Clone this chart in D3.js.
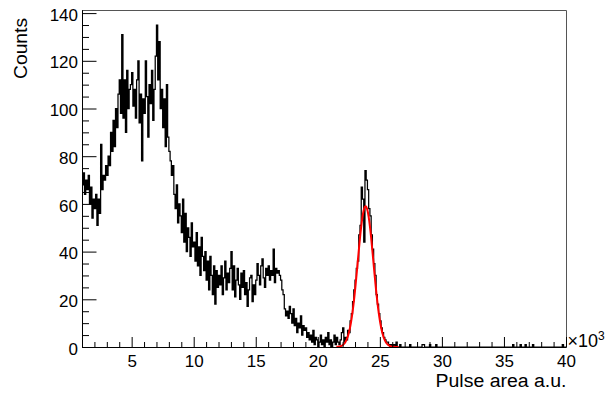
<!DOCTYPE html>
<html>
<head>
<meta charset="utf-8">
<script src="https://cdn.jsdelivr.net/npm/d3@7"></script>
<style>
  html, body { margin: 0; padding: 0; background: #fff; }
  svg { display: block; }
  text { font-family: "Liberation Sans", Arial, Helvetica, sans-serif; fill: #000; }
</style>
</head>
<body>
<svg id="chart" width="609" height="394"></svg>
<script>
// Histogram binning (x in units of 10^3)
const binStart = 1.0;
const binWidth = 0.1;

// Bin contents, 100 per 10^4 span (first block starts at 1.0)
const counts1to10 = [
  68, 73, 64, 70, 66, 72, 60, 67, 54, 62,
  58, 64, 51, 62, 56, 85, 66, 72, 70, 76,
  72, 80, 76, 90, 82, 95, 84, 100, 92, 106,
  112, 98, 131, 96, 112, 90, 116, 100, 108, 110,
  115, 101, 108, 96, 112, 120, 94, 106, 78, 104,
  98, 120, 105, 88, 110, 102, 116, 95, 108, 122,
  135, 112, 128, 100, 108, 92, 104, 84, 110, 88,
  82, 78, 72, 76, 64, 58, 68, 52, 60, 55,
  48, 62, 44, 56, 40, 50, 46, 38, 52, 42
];
const counts10to20 = [
  44, 36, 48, 34, 42, 30, 46, 38, 32, 40,
  28, 36, 24, 38, 30, 22, 34, 18, 32, 25,
  30, 26, 34, 22, 29, 36, 24, 31, 27, 33,
  40, 24, 34, 21, 28, 33, 26, 20, 31, 25,
  32, 22, 27, 17, 24, 29, 30, 19, 26, 22,
  28, 35, 30, 26, 34, 37, 29, 25, 33, 30,
  34, 28, 32, 30, 41, 27, 33, 31, 32, 30,
  28, 24, 22, 16, 13, 15, 12, 17, 14, 10,
  16, 9, 12, 6, 10, 8, 13, 5, 9, 7,
  8, 4, 6, 3, 5, 2, 7, 1, 4, 3
];
const counts20to30 = [
  0, 2, 5, 1, 3, 0, 4, 2, 6, 1,
  3, 0, 2, 5, 1, 4, 2, 1, 3, 6,
  8, 2, 4, 3, 7, 6, 11, 14, 19, 24,
  28, 33, 36, 47, 51, 67, 62, 44, 74, 70,
  66, 58, 55, 47, 41, 35, 30, 22, 18, 14,
  11, 8, 6, 4, 3, 2, 2, 1, 0, 1,
  0, 1, 0, 2, 0, 0, 1, 0, 0, 0,
  0, 0, 0, 0, 1, 0, 0, 0, 0, 0,
  0, 0, 0, 0, 1, 1, 0, 0, 0, 0,
  1, 0, 0, 0, 0, 1, 0, 0, 0, 0
];
const counts30to40 = [
  0, 0, 0, 0, 0, 0, 0, 0, 0, 0,
  0, 0, 0, 0, 0, 0, 0, 0, 0, 0,
  0, 0, 0, 0, 0, 0, 0, 0, 0, 0,
  0, 0, 0, 0, 0, 0, 0, 0, 0, 0,
  0, 0, 0, 0, 0, 0, 0, 0, 0, 0,
  0, 0, 0, 0, 0, 0, 0, 1, 0, 0,
  0, 0, 0, 1, 0, 0, 0, 1, 0, 0,
  0, 0, 0, 1, 0, 0, 0, 0, 0, 0,
  0, 0, 0, 0, 0, 0, 0, 0, 0, 0,
  0, 0, 0, 0, 0, 0, 0, 1, 0, 0
];

// Gaussian fit of the peak: constant, mean, sigma, and fit range
const fitConstant = 59;
const fitMean = 23.85;
const fitSigma = 0.63;
const fitRange = [21.5, 26.5];

// Axis ticks and labels
const xMajorTicks = [5, 10, 15, 20, 25, 30, 35, 40];
const yMajorTicks = [0, 20, 40, 60, 80, 100, 120, 140];
const xTitle = "Pulse area a.u.";
const yTitle = "Counts";

const xDomain = [1, 40];
const yDomain = [0, 141.3];

const frame = { left: 82, right: 566, top: 10, bottom: 347 };

const svg = d3.select("#chart");
const x = d3.scaleLinear().domain(xDomain).range([frame.left, frame.right]);
const y = d3.scaleLinear().domain(yDomain).range([frame.bottom, frame.top]);

svg.append("defs").append("clipPath").attr("id", "plotClip")
  .append("rect")
  .attr("x", frame.left).attr("y", frame.top)
  .attr("width", frame.right - frame.left)
  .attr("height", frame.bottom - frame.top);

// Top and right frame edges
svg.append("path")
  .attr("d", `M${frame.left},${frame.top + 0.5}H${frame.right + 0.5}V${frame.bottom}`)
  .attr("fill", "none").attr("stroke", "#555").attr("stroke-width", 1);

// Histogram as a step line
const counts = counts1to10.concat(counts10to20, counts20to30, counts30to40);
const steps = counts.map((c, i) => ({ lo: binStart + i * binWidth, c }));
steps.push({ lo: binStart + counts.length * binWidth, c: counts[counts.length - 1] });

const stepLine = d3.line()
  .x(d => x(d.lo))
  .y(d => y(d.c))
  .curve(d3.curveStepAfter);

svg.append("path")
  .attr("clip-path", "url(#plotClip)")
  .attr("d", stepLine(steps))
  .attr("fill", "none")
  .attr("stroke", "#000")
  .attr("stroke-width", 1.25);

// Fit curve
const gauss = v => fitConstant * Math.exp(-0.5 * Math.pow((v - fitMean) / fitSigma, 2));
const fitPts = d3.range(0, 201).map(k => {
  const v = fitRange[0] + (fitRange[1] - fitRange[0]) * k / 200;
  return [v, gauss(v)];
});
svg.append("path")
  .attr("clip-path", "url(#plotClip)")
  .attr("d", d3.line().x(d => x(d[0])).y(d => y(d[1])).curve(d3.curveLinear)(fitPts))
  .attr("fill", "none")
  .attr("stroke", "#ff0000")
  .attr("stroke-width", 2)
  .attr("stroke-linejoin", "round");

// Axes: ticks point into the frame
const fontSize = 17;

const xMinor = d3.range(2, 40).filter(v => v % 5 !== 0);
const yMinor = d3.range(5, 141, 5).filter(v => v % 20 !== 0);

const gxMinor = svg.append("g")
  .attr("transform", `translate(0,${frame.bottom})`)
  .call(d3.axisBottom(x).tickValues(xMinor).tickSize(-5).tickSizeOuter(0).tickFormat(""));
const gx = svg.append("g")
  .attr("transform", `translate(0,${frame.bottom})`)
  .call(d3.axisBottom(x).tickValues(xMajorTicks).tickSize(-10).tickSizeOuter(0).tickPadding(8));
gx.selectAll("text").attr("font-size", fontSize).attr("font-family", null);

const gyMinor = svg.append("g")
  .attr("transform", `translate(${frame.left},0)`)
  .call(d3.axisLeft(y).tickValues(yMinor).tickSize(-7).tickSizeOuter(0).tickFormat(""));
const gy = svg.append("g")
  .attr("transform", `translate(${frame.left},0)`)
  .call(d3.axisLeft(y).tickValues(yMajorTicks).tickSize(-14.5).tickSizeOuter(0).tickPadding(4));
gy.selectAll("text").attr("font-size", fontSize).attr("dy", "0.42em").attr("font-family", null);

[gx, gxMinor, gy, gyMinor].forEach(g => {
  g.attr("font-family", null);
  g.selectAll("line").attr("stroke", "#000");
  g.select(".domain").attr("stroke", "#000");
});

// Axis multiplier
const mult = svg.append("text")
  .attr("x", frame.right + 1.5)
  .attr("y", frame.bottom)
  .attr("font-size", 18);
mult.append("tspan").text("\u00d710");
mult.append("tspan").attr("font-size", 12).attr("dy", -7).text("3");

// Axis titles
svg.append("text")
  .attr("x", frame.right + 0.5)
  .attr("y", 386.5)
  .attr("text-anchor", "end")
  .attr("font-size", 18)
  .attr("textLength", 131)
  .attr("lengthAdjust", "spacingAndGlyphs")
  .text(xTitle);

svg.append("text")
  .attr("transform", "translate(27,18) rotate(-90)")
  .attr("text-anchor", "end")
  .attr("font-size", 19)
  .attr("textLength", 61)
  .attr("lengthAdjust", "spacingAndGlyphs")
  .text(yTitle);
</script>
</body>
</html>
